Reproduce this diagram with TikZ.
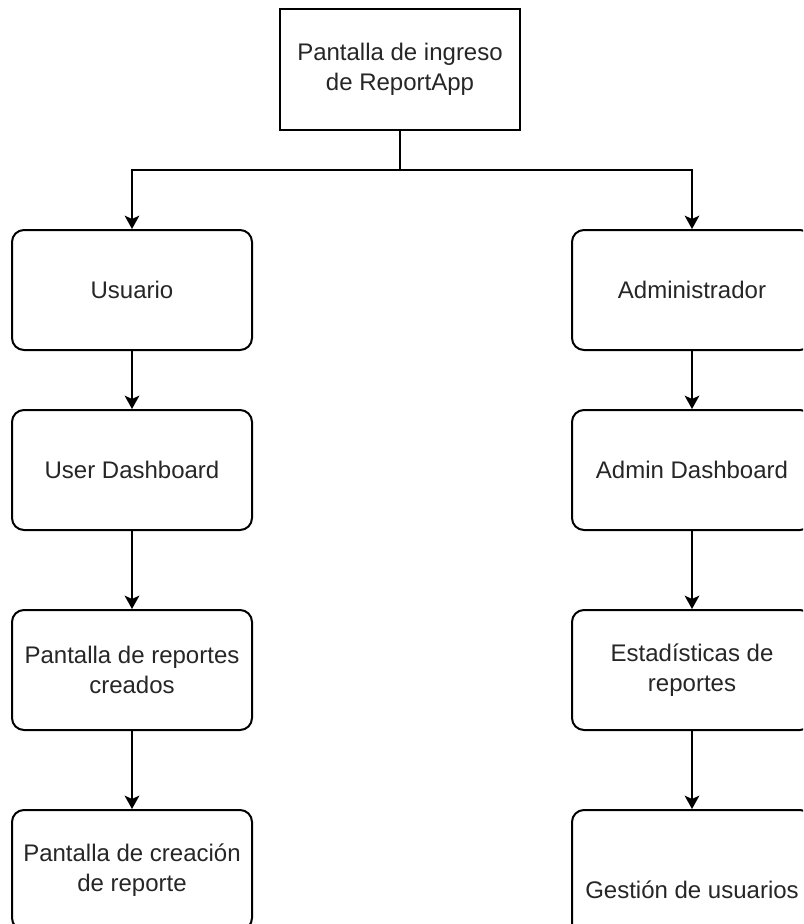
\documentclass[tikz,border=0pt]{standalone}
\usepackage{fontspec}
\setmainfont{Liberation Sans}
\usepackage{xcolor}
\usetikzlibrary{arrows.meta}

\tikzset{
  screenbox/.style={draw, line width=1.5pt, minimum width=180pt, minimum height=90pt,
    inner sep=0pt, align=center, font=\fontsize{18}{22.5}\selectfont, text=black!85},
  roundbox/.style={screenbox, rounded corners=9pt},
  flowline/.style={line width=1.5pt},
  flowarrow/.style={flowline, -{Stealth[length=10pt,width=11pt,inset=2.5pt]}}
}

\begin{document}
\begin{tikzpicture}[x=0.75pt,y=0.75pt,yscale=-1,xscale=1]
%set diagram to 803 x 924, boxes on the right and bottom are cut off
\clip (0,0) rectangle (803,924);
\fill[white] (0,0) rectangle (803,924);

%Shape: Rectangle [id:ingreso]
\node[screenbox] (ingreso) at (400,69.5) {Pantalla de ingreso\\de ReportApp};

%Shape: Rounded Rect [id:usuario]
\node[roundbox] (usuario) at (132,290) {Usuario};
%Shape: Rounded Rect [id:userdash]
\node[roundbox] (userdash) at (132,470) {User Dashboard};
%Shape: Rounded Rect [id:creados]
\node[roundbox] (creados) at (132,670) {Pantalla de reportes\\creados};
%Shape: Rounded Rect [id:creacion]
\node[roundbox] (creacion) at (132,870) {Pantalla de creación\\de reporte};

%Shape: Rounded Rect [id:admin]
\node[roundbox] (admin) at (692,290) {Administrador};
%Shape: Rounded Rect [id:admindash]
\node[roundbox] (admindash) at (692,470) {Admin Dashboard};
%Shape: Rounded Rect [id:estadisticas]
\node[roundbox] (estadisticas) at (692,670) {Estadísticas de\\reportes};
%Shape: Rounded Rect [id:gestion]
\node[roundbox, minimum height=120pt] (gestion) at (692,890) {Gestión de usuarios};

%Straight Lines [id:split]
\coordinate (split) at (400,170);
\draw[flowline] (ingreso) -- (split);
\draw[flowarrow] (split) -| (usuario);
\draw[flowarrow] (split) -| (admin);

%Straight Lines [id:left column]
\draw[flowarrow] (usuario) -- (userdash);
\draw[flowarrow] (userdash) -- (creados);
\draw[flowarrow] (creados) -- (creacion);

%Straight Lines [id:right column]
\draw[flowarrow] (admin) -- (admindash);
\draw[flowarrow] (admindash) -- (estadisticas);
\draw[flowarrow] (estadisticas) -- (gestion);

\end{tikzpicture}
\end{document}
